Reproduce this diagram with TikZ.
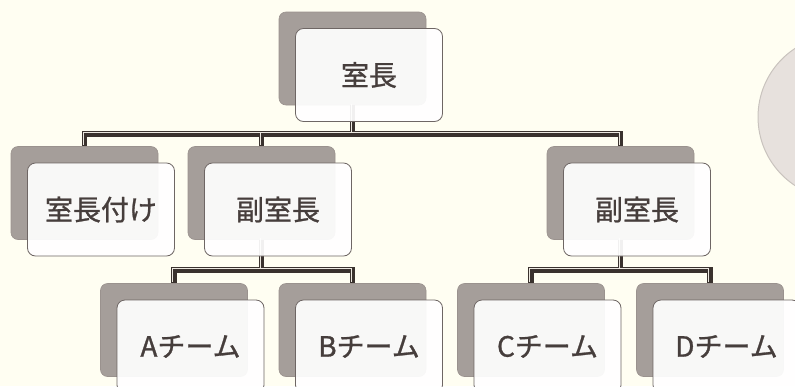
\documentclass[tikz,border=0pt]{standalone}
\usepackage{fontspec}
\newfontfamily\jp{Noto Sans CJK JP}[FakeBold=1.0]
\definecolor{bg}{HTML}{FFFEF2}
\definecolor{shade}{HTML}{A59E9A}
\definecolor{shadeedge}{HTML}{9A928E}
\definecolor{boxedge}{HTML}{6E6664}
\definecolor{ink}{HTML}{463E3C}
\definecolor{inkdark}{HTML}{3A322E}
\definecolor{linkhi}{HTML}{ECE8E0}
\definecolor{discfill}{HTML}{E7E1DD}
\definecolor{discedge}{HTML}{C9C3BE}
\begin{document}
\begin{tikzpicture}[x=1pt,y=-1pt,
  back/.style={rectangle, rounded corners=7pt, fill=shade, draw=shadeedge, line width=0.6pt,
    minimum width=147pt, minimum height=93pt, inner sep=0pt},
  front/.style={rectangle, rounded corners=8pt, fill=white, fill opacity=0.93, text opacity=1,
    draw=boxedge, line width=0.8pt, minimum width=147pt, minimum height=93pt, inner sep=0pt,
    font=\jp\fontsize{28}{32}\selectfont, text=ink, xshift=16.5pt, yshift=-16.5pt},
  linkdark/.style={draw=inkdark, line width=5.5pt},
  linklight/.style={draw=linkhi, line width=1.1pt, transform canvas={shift={(-1.4pt,1.4pt)}}},
]
\useasboundingbox (0,0) rectangle (795,386);
\clip (0,0) rectangle (795,386);
\fill[bg] (0,0) rectangle (795,386);
\draw[fill=discfill, draw=discedge, line width=1pt] (840,117) circle[radius=82pt];

% shadow boxes
\node[back] (g0) at (352.5,58.5) {};
\node[back] (g1) at (84.5,193) {};
\node[back] (g2) at (261.5,193) {};
\node[back] (g3) at (620.5,193) {};
\node[back] (g4) at (174,330) {};
\node[back] (g5) at (352.5,330) {};
\node[back] (g6) at (531,330) {};
\node[back] (g7) at (710,330) {};

\coordinate (bus1) at (0,134);
\coordinate (bus2) at (0,270);

\foreach \s in {linkdark,linklight}{
  \foreach \c in {g1,g2,g3}
    \draw[\s] (g0.south) -- (g0.south |- bus1) -| (\c.north);
  \foreach \c in {g4,g5}
    \draw[\s] (g2.south) -- (g2.south |- bus2) -| (\c.north);
  \foreach \c in {g6,g7}
    \draw[\s] (g3.south) -- (g3.south |- bus2) -| (\c.north);
}

% front boxes
\node[front] (w0) at (g0) {室長};
\node[front] (w1) at (g1) {室長付け};
\node[front] (w2) at (g2) {副室長};
\node[front] (w3) at (g3) {副室長};
\node[front] (w4) at (g4) {Aチーム};
\node[front] (w5) at (g5) {Bチーム};
\node[front] (w6) at (g6) {Cチーム};
\node[front] (w7) at (g7) {Dチーム};
\end{tikzpicture}
\end{document}
